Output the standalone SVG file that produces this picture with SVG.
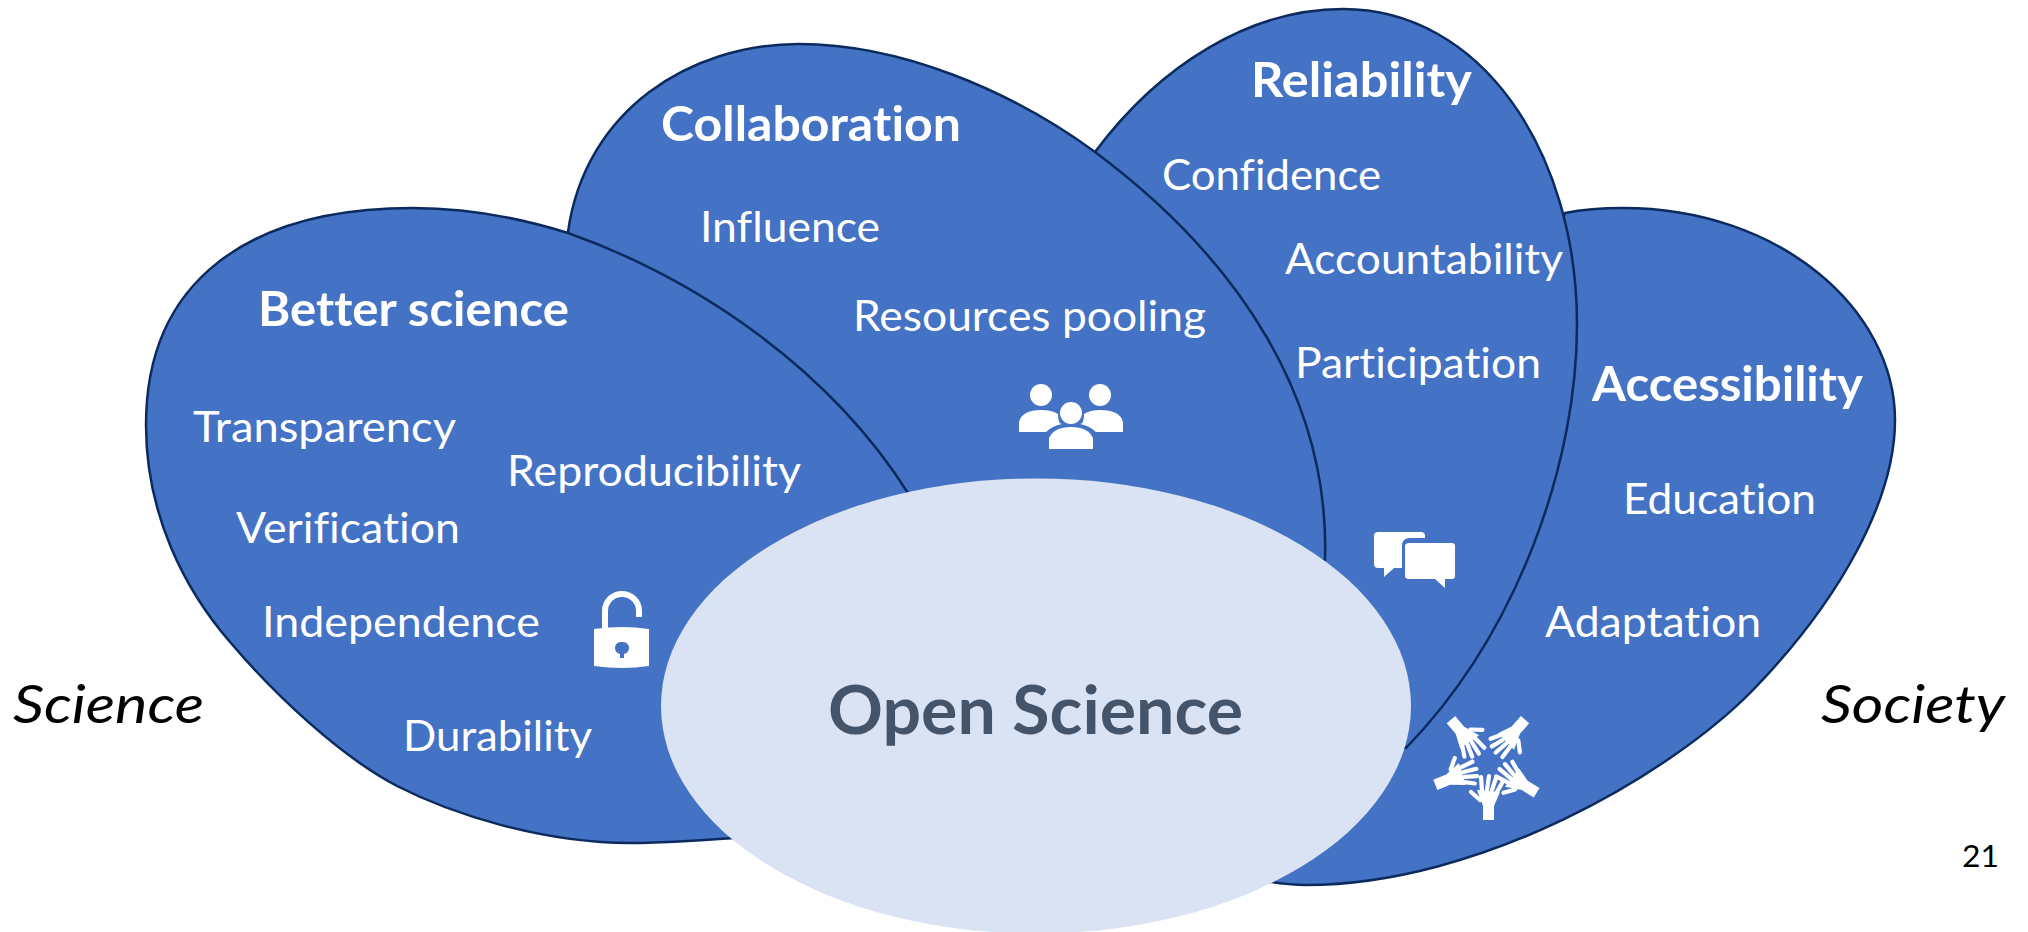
<svg xmlns="http://www.w3.org/2000/svg" width="2028" height="932" viewBox="0 0 2028 932">
<style>
.petal{fill:#4472C4;stroke:#0B2A5E;stroke-width:2.5;stroke-linejoin:round}
text{font-family:"Lato","Liberation Sans",sans-serif;font-variant-ligatures:none}
.l{fill:#fff;font-size:43px}
.h{fill:#fff;font-size:48px;font-weight:700}
.o{fill:#000;font-size:52px;font-style:italic}
.i{fill:#fff}
</style>
<defs>
<g id="hand" class="i">
<path d="M-5,43V57H6V43L12,29L-11,27Z"/>
<path d="M-6,28L-7,14M-1,27L1,13M4,27L8,15M9,29L14,20M-8,37L-17,29" stroke="#fff" stroke-width="4.2" stroke-linecap="round" fill="none"/>
</g>
</defs>
<rect width="2028" height="932" fill="#fff"/>
<g id="connectors"></g>
<g id="accessibility">
<path class="petal" d="M1500,400L1565,213C1585,209 1604,208 1623,208C1780,208 1895,310 1895,420C1895,500 1840,600 1753,690C1670,775 1480,885 1306,885C1295,885 1280,884 1260,880L1300,700Z"/>
<text class="h" x="1592" y="401" textLength="271" lengthAdjust="spacingAndGlyphs">Accessibility</text>
<text class="l" x="1623" y="514" textLength="193" lengthAdjust="spacingAndGlyphs">Education</text>
<text class="l" x="1545" y="637" textLength="216" lengthAdjust="spacingAndGlyphs">Adaptation</text>
<g transform="translate(1488,763)">
<use href="#hand"/><use href="#hand" transform="rotate(68)"/><use href="#hand" transform="rotate(140)"/><use href="#hand" transform="rotate(-139)"/><use href="#hand" transform="rotate(-58)"/>
</g>
</g>
<g id="reliability">
<path class="petal" d="M1080,170L1095,152C1160,65 1250,9 1343,9C1480,9 1577,150 1577,325C1577,460 1520,630 1406,748L1380,740L1100,700Z"/>
<text class="h" x="1251" y="97" textLength="221" lengthAdjust="spacingAndGlyphs">Reliability</text>
<text class="l" x="1162" y="190" textLength="219" lengthAdjust="spacingAndGlyphs">Confidence</text>
<text class="l" x="1285" y="274" textLength="278" lengthAdjust="spacingAndGlyphs">Accountability</text>
<text class="l" x="1295" y="378" textLength="246" lengthAdjust="spacingAndGlyphs">Participation</text>
<g class="i">
<path d="M1378,532H1421Q1425,532 1425,536V538H1410Q1402,538 1402,546V568H1394L1384,577V568H1378Q1374,568 1374,564V536Q1374,532 1378,532Z"/>
<path d="M1409,543H1452Q1455,543 1455,546V576Q1455,579 1452,579H1445V588L1435,579H1409Q1405,579 1405,576V546Q1405,543 1409,543Z"/>
</g>
</g>
<g id="collaboration">
<path class="petal" d="M580,300L568,232C585,110 690,44 799,44C900,44 1010,90 1095,152C1240,260 1330,400 1325,560L1000,700Z"/>
<text class="h" x="661" y="141" textLength="300" lengthAdjust="spacingAndGlyphs">Collaboration</text>
<text class="l" x="700" y="242" textLength="180" lengthAdjust="spacingAndGlyphs">Influence</text>
<text class="l" x="853" y="331" textLength="353" lengthAdjust="spacingAndGlyphs">Resources pooling</text>
<g class="i">
<circle cx="1041" cy="395" r="11"/><circle cx="1100" cy="395" r="11"/>
<path d="M1019,432V422Q1022,410 1041,410Q1052,410 1058,414Q1058,424 1062,424Q1052,426 1046,432Z"/>
<path d="M1123,432V422Q1120,410 1100,410Q1090,410 1084,414Q1084,424 1080,424Q1090,426 1096,432Z"/>
<circle cx="1071" cy="413" r="11"/>
<path d="M1049,449V438Q1054,427 1071,427Q1088,427 1093,438V449Z"/>
</g>
</g>
<g id="better-science">
<path class="petal" d="M915,510L908,493C830,370 700,280 568,233C520,218 465,208 413,208C250,208 146,280 146,425C146,515 185,590 230,642C275,695 340,756 397,786C450,813 540,843 630,843C670,843 710,840 760,836Z"/>
<text class="h" x="258" y="326" textLength="311" lengthAdjust="spacingAndGlyphs">Better science</text>
<text class="l" x="193" y="442" textLength="263" lengthAdjust="spacingAndGlyphs">Transparency</text>
<text class="l" x="507" y="486" textLength="294" lengthAdjust="spacingAndGlyphs">Reproducibility</text>
<text class="l" x="236" y="543" textLength="224" lengthAdjust="spacingAndGlyphs">Verification</text>
<text class="l" x="262" y="637" textLength="278" lengthAdjust="spacingAndGlyphs">Independence</text>
<text class="l" x="403" y="751" textLength="189" lengthAdjust="spacingAndGlyphs">Durability</text>
<g>
<path d="M605,630V611A17,17 0 0 1 639,611V617" fill="none" stroke="#fff" stroke-width="6"/>
<path class="i" fill-rule="evenodd" d="M594,629Q622,625 649,629V666Q622,670 594,666ZM622,642A6,6 0 0 0 620,654V658H624V654A6,6 0 0 0 622,642Z"/>
</g>
</g>
<g id="open-science">
<ellipse cx="1036" cy="706" rx="375" ry="227.5" fill="#DAE3F3"/>
<text x="828" y="734" fill="#44546A" font-size="67" font-weight="700" textLength="415" lengthAdjust="spacingAndGlyphs">Open Science</text>
</g>
<text class="o" x="13" y="723" textLength="191" lengthAdjust="spacingAndGlyphs">Science</text>
<text class="o" x="1821" y="723" textLength="184" lengthAdjust="spacingAndGlyphs">Society</text>
<text x="1962" y="867" font-size="30" fill="#000" textLength="37" lengthAdjust="spacingAndGlyphs">21</text>
</svg>
